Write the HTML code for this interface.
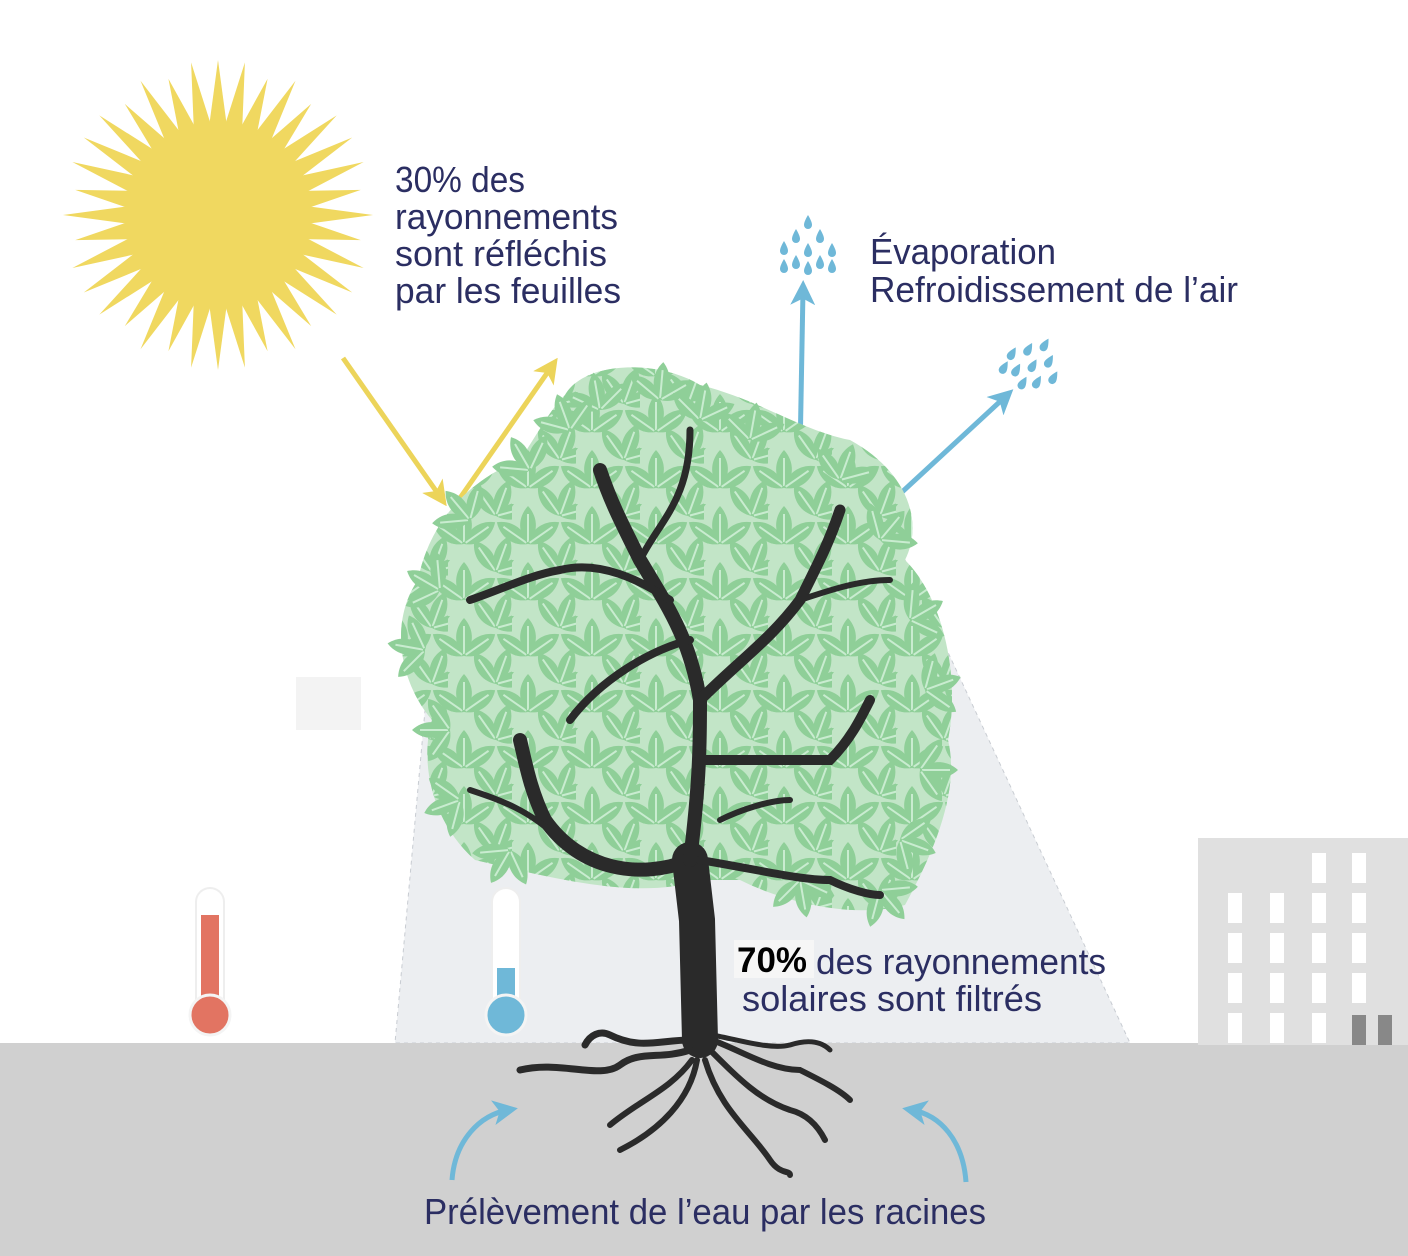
<!DOCTYPE html>
<html><head><meta charset="utf-8"><style>html,body{margin:0;padding:0;background:#fff}svg{display:block}</style></head>
<body>
<svg width="1408" height="1256" viewBox="0 0 1408 1256" xmlns="http://www.w3.org/2000/svg" font-family="Liberation Sans, sans-serif">
<defs>
<g id="leaf"><path d="M0,0 C10,-10 11,-26 0,-38 C-11,-26 -10,-10 0,0Z" fill="#8fcf98"/><path d="M0,-2 L0,-30" stroke="#c9ecd0" stroke-width="2"/></g>
<g id="cl"><use href="#leaf" transform="rotate(-55)"/><use href="#leaf"/><use href="#leaf" transform="rotate(55)"/></g>
<pattern id="lp" width="64" height="56" patternUnits="userSpaceOnUse">
<use href="#cl" transform="translate(16,40)"/><use href="#cl" transform="translate(48,12) rotate(20)"/><use href="#cl" transform="translate(48,68) rotate(20)"/><use href="#cl" transform="translate(-16,12) rotate(-20)"/><use href="#cl" transform="translate(80,40)"/>
</pattern>
<marker id="ay" markerWidth="5" markerHeight="5" refX="3" refY="2.5" orient="auto" markerUnits="strokeWidth"><path d="M0,0 L5,2.5 L0,5 L1.3,2.5Z" fill="#ecd45a"/></marker>
<marker id="ab" markerWidth="5" markerHeight="5" refX="3" refY="2.5" orient="auto" markerUnits="strokeWidth"><path d="M0,0 L5,2.5 L0,5 L1.3,2.5Z" fill="#6fb8d8"/></marker>
<g id="drop"><path d="M0,-7 C3,-2 4,1 4,3 A4,4 0 0 1 -4,3 C-4,1 -3,-2 0,-7Z" fill="#6fb8d8"/></g>
</defs>
<rect width="1408" height="1256" fill="#fff"/>
<polygon points="442,522 520,520 905,560 1130,1043 395,1043" fill="#eceef1" stroke="#c8ccd2" stroke-dasharray="4 4"/>
<rect x="296" y="677" width="65" height="53" fill="#f3f3f3"/>
<rect x="0" y="1043" width="1408" height="213" fill="#d0d0d0"/>
<rect x="1198" y="838" width="210" height="207" fill="#e0e0e0"/>
<g fill="#fff">
<rect x="1228" y="893" width="14" height="30"/><rect x="1270" y="893" width="14" height="30"/><rect x="1312" y="853" width="14" height="30"/><rect x="1352" y="853" width="14" height="30"/>
<rect x="1312" y="893" width="14" height="30"/><rect x="1352" y="893" width="14" height="30"/>
<rect x="1228" y="933" width="14" height="30"/><rect x="1270" y="933" width="14" height="30"/><rect x="1312" y="933" width="14" height="30"/><rect x="1352" y="933" width="14" height="30"/>
<rect x="1228" y="973" width="14" height="30"/><rect x="1270" y="973" width="14" height="30"/><rect x="1312" y="973" width="14" height="30"/><rect x="1352" y="973" width="14" height="30"/>
<rect x="1228" y="1013" width="14" height="30"/><rect x="1270" y="1013" width="14" height="30"/><rect x="1312" y="1013" width="14" height="30"/>
</g>
<rect x="1352" y="1015" width="14" height="30" fill="#888"/><rect x="1378" y="1015" width="14" height="30" fill="#888"/>
<g transform="translate(218,215)" fill="#f0d860">
<circle r="92"/>
<g id="rays"><polygon points="-9,-88 0,-155 9,-88"/><polygon points="-9,-88 0,-155 9,-88" transform="rotate(10)"/><polygon points="-9,-88 0,-145 9,-88" transform="rotate(20)"/><polygon points="-9,-88 0,-155 9,-88" transform="rotate(30)"/><polygon points="-9,-88 0,-145 9,-88" transform="rotate(40)"/><polygon points="-9,-88 0,-155 9,-88" transform="rotate(50)"/></g>
<use href="#rays" transform="rotate(60)"/><use href="#rays" transform="rotate(120)"/><use href="#rays" transform="rotate(180)"/><use href="#rays" transform="rotate(240)"/><use href="#rays" transform="rotate(300)"/>
</g>
<line x1="343" y1="358" x2="441" y2="498" stroke="#ecd45a" stroke-width="5" marker-end="url(#ay)"/>
<line x1="460" y1="498" x2="552" y2="366" stroke="#ecd45a" stroke-width="5" marker-end="url(#ay)"/>
<line x1="800" y1="455" x2="803" y2="290" stroke="#6fb8d8" stroke-width="5" marker-end="url(#ab)"/>
<line x1="888" y1="505" x2="1006" y2="396" stroke="#6fb8d8" stroke-width="5" marker-end="url(#ab)"/>
<g><use href="#drop" x="808" y="222"/><use href="#drop" x="796" y="236"/><use href="#drop" x="820" y="236"/><use href="#drop" x="784" y="248"/><use href="#drop" x="808" y="250"/><use href="#drop" x="832" y="250"/><use href="#drop" x="784" y="266"/><use href="#drop" x="808" y="268"/><use href="#drop" x="832" y="266"/><use href="#drop" x="796" y="262"/><use href="#drop" x="820" y="262"/></g>
<g transform="translate(1035,362) rotate(30)"><use href="#drop" x="0" y="-20"/><use href="#drop" x="-12" y="-8"/><use href="#drop" x="12" y="-8"/><use href="#drop" x="-24" y="4"/><use href="#drop" x="0" y="4"/><use href="#drop" x="24" y="4"/><use href="#drop" x="-12" y="16"/><use href="#drop" x="12" y="16"/><use href="#drop" x="-24" y="20"/><use href="#drop" x="0" y="24"/></g>
<!-- canopy -->
<path d="M565,395 C585,360 660,360 700,385 C760,400 800,430 850,440 C905,470 925,520 905,560 C945,600 960,680 948,740 C960,790 935,850 905,905 C850,920 780,900 740,880 L700,880 C640,900 560,880 475,860 C430,820 420,760 432,720 C398,680 390,620 418,580 C430,520 470,480 520,460 C540,430 550,410 565,395Z" fill="#c2e5c7"/>
<path d="M565,395 C585,360 660,360 700,385 C760,400 800,430 850,440 C905,470 925,520 905,560 C945,600 960,680 948,740 C960,790 935,850 905,905 C850,920 780,900 740,880 L700,880 C640,900 560,880 475,860 C430,820 420,760 432,720 C398,680 390,620 418,580 C430,520 470,480 520,460 C540,430 550,410 565,395Z" fill="url(#lp)"/>
<g>
<use href="#cl" transform="translate(600,410) rotate(-10)"/><use href="#cl" transform="translate(660,400) rotate(5)"/><use href="#cl" transform="translate(700,420) rotate(10)"/><use href="#cl" transform="translate(750,440) rotate(10)"/><use href="#cl" transform="translate(840,480) rotate(20)"/><use href="#cl" transform="translate(880,540) rotate(40)"/><use href="#cl" transform="translate(910,620) rotate(60)"/><use href="#cl" transform="translate(925,690) rotate(70)"/><use href="#cl" transform="translate(920,770) rotate(90)"/><use href="#cl" transform="translate(900,840) rotate(110)"/><use href="#cl" transform="translate(880,890) rotate(140)"/><use href="#cl" transform="translate(800,880) rotate(170)"/><use href="#cl" transform="translate(510,850) rotate(-150)"/><use href="#cl" transform="translate(460,800) rotate(-110)"/><use href="#cl" transform="translate(450,730) rotate(-90)"/><use href="#cl" transform="translate(425,650) rotate(-80)"/><use href="#cl" transform="translate(440,590) rotate(-60)"/><use href="#cl" transform="translate(470,520) rotate(-40)"/><use href="#cl" transform="translate(530,470) rotate(-30)"/><use href="#cl" transform="translate(570,430) rotate(-20)"/>
</g>
<g stroke="#2a2a2a" fill="none" stroke-linecap="round">
<path d="M700,1040 L697,920 L690,860" stroke-width="36"/>
<path d="M690,860 C640,880 580,870 545,820 C530,790 525,760 520,740" stroke-width="14"/>
<path d="M690,860 C700,780 700,740 700,700 C690,640 670,610 640,560 C620,520 610,500 600,470" stroke-width="14"/>
<path d="M700,700 C740,660 770,640 800,600 C820,560 830,540 840,510" stroke-width="11"/>
<path d="M700,760 C760,760 800,760 830,760 C850,740 860,720 870,700" stroke-width="10"/>
<path d="M700,860 C760,870 800,880 830,880 C850,890 870,895 880,895" stroke-width="8"/>
<path d="M670,600 C640,580 600,560 560,570 C530,575 500,590 470,600" stroke-width="8"/>
<path d="M690,640 C650,650 600,680 570,720" stroke-width="8"/>
<path d="M640,560 C660,520 690,500 690,430" stroke-width="7"/>
<path d="M800,600 C830,590 860,580 890,580" stroke-width="6"/>
<path d="M720,820 C740,810 770,800 790,800" stroke-width="6"/>
<path d="M560,840 C530,810 500,800 470,790" stroke-width="6"/>
</g>
<g stroke="#2a2a2a" fill="none" stroke-linecap="round">
<path d="M690,1040 C660,1040 640,1050 610,1035 C600,1030 590,1035 585,1045" stroke-width="7"/>
<path d="M690,1050 C660,1060 640,1050 620,1065 C600,1080 560,1060 520,1070" stroke-width="7"/>
<path d="M692,1060 C670,1090 640,1100 610,1125" stroke-width="6"/>
<path d="M697,1060 C690,1100 660,1130 620,1150" stroke-width="6"/>
<path d="M705,1060 C720,1110 750,1130 770,1160 C780,1175 790,1170 790,1175" stroke-width="6"/>
<path d="M710,1050 C740,1080 760,1100 790,1110 C810,1115 820,1130 825,1140" stroke-width="6"/>
<path d="M712,1040 C740,1050 770,1070 800,1070 C820,1080 840,1090 850,1100" stroke-width="6"/>
<path d="M712,1035 C740,1040 770,1050 790,1045 C805,1040 820,1040 830,1050" stroke-width="5"/>
</g>
<g>
<rect x="196" y="888" width="28" height="130" rx="14" fill="#fff" stroke="#eee" stroke-width="2"/>
<rect x="201" y="915" width="18" height="100" fill="#e27462"/>
<circle cx="210" cy="1015" r="20" fill="#e27462" stroke="#f4f4f4" stroke-width="3"/>
<rect x="492" y="888" width="28" height="130" rx="14" fill="#fff" stroke="#eee" stroke-width="2"/>
<rect x="497" y="968" width="18" height="50" fill="#6fb8d8"/>
<circle cx="506" cy="1015" r="20" fill="#6fb8d8" stroke="#f4f4f4" stroke-width="3"/>
</g>
<path d="M452,1180 C455,1140 480,1115 508,1110" stroke="#6fb8d8" stroke-width="5" fill="none" marker-end="url(#ab)"/>
<path d="M966,1182 C963,1140 940,1115 912,1110" stroke="#6fb8d8" stroke-width="5" fill="none" marker-end="url(#ab)"/>
<g fill="#2b2e62" font-size="36" lengthAdjust="spacingAndGlyphs">
<text x="395" y="192" textLength="130" lengthAdjust="spacingAndGlyphs">30% des</text>
<text x="395" y="229" textLength="223" lengthAdjust="spacingAndGlyphs">rayonnements</text>
<text x="395" y="266" textLength="212" lengthAdjust="spacingAndGlyphs">sont réfléchis</text>
<text x="395" y="303" textLength="226" lengthAdjust="spacingAndGlyphs">par les feuilles</text>
<text x="870" y="264" textLength="186" lengthAdjust="spacingAndGlyphs">Évaporation</text>
<text x="870" y="302" textLength="368" lengthAdjust="spacingAndGlyphs">Refroidissement de l’air</text>
<text x="816" y="974" textLength="290" lengthAdjust="spacingAndGlyphs">des rayonnements</text>
<text x="742" y="1011" textLength="300" lengthAdjust="spacingAndGlyphs">solaires sont filtrés</text>
<text x="424" y="1224" textLength="562" lengthAdjust="spacingAndGlyphs">Prélèvement de l’eau par les racines</text>
</g>
<rect x="734" y="940" width="80" height="38" fill="#f6f6f6"/>
<text x="737" y="972" font-size="35" font-weight="bold" fill="#000" textLength="70" lengthAdjust="spacingAndGlyphs">70%</text>
</svg>
</body></html>
